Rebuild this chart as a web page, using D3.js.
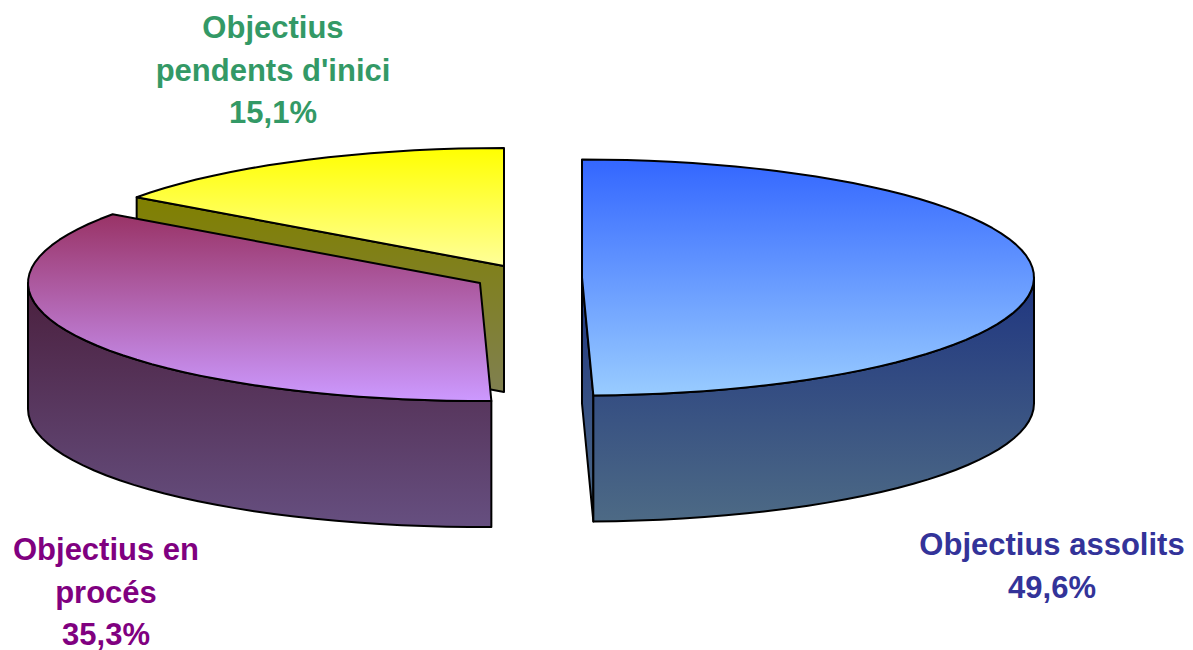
<!DOCTYPE html>
<html>
<head>
<meta charset="utf-8">
<script src="https://cdn.jsdelivr.net/npm/d3@7"></script>
<style>
  body { margin: 0; background: #fff; }
  svg { display: block; }
  text { font-family: "Liberation Sans", Arial, sans-serif; font-weight: bold; font-size: 31px; text-anchor: middle; }
</style>
</head>
<body>
<script>
const categories = ["Objectius assolits", "Objectius en procés", "Objectius pendents d'inici"];
const values = [49.6, 35.3, 15.1];
const valueLabels = ["49,6%", "35,3%", "15,1%"];
const labelLines = [["Objectius assolits"], ["Objectius en", "procés"], ["Objectius", "pendents d'inici"]];
const labelColors = ["#333399", "#800080", "#339966"];
const topColors = [["#3366ff", "#99ccff"], ["#993366", "#cc99ff"], ["#ffff00", "#ffff99"]];
const wallColors = [["#1f3580", "#4d6a85"], ["#4a1f3d", "#664f80"], ["#808000", "#808050"]];

const width = 1193, height = 650;
const rx = 452, ry = 118, depth = 126;
// every slice is pulled away from the middle on its own, so each has its own centre
const centres = [[582, 277.5], [480, 283], [504, 266]];
const labelPos = [[1052, 555], [106, 560], [273, 38]];
const lineGap = 42.5;

const svg = d3.select("body").append("svg").attr("width", width).attr("height", height);
const defs = svg.append("defs");

function addGradient(id, cols) {
  const g = defs.append("linearGradient").attr("id", id)
    .attr("x1", 0).attr("y1", 0).attr("x2", 0).attr("y2", 1);
  g.append("stop").attr("offset", "0%").attr("stop-color", cols[0]);
  g.append("stop").attr("offset", "100%").attr("stop-color", cols[1]);
}
topColors.forEach((c, i) => addGradient("top" + i, c));
wallColors.forEach((c, i) => addGradient("wall" + i, c));

const pie = d3.pie().sort(null).value(d => d);
const arcs = pie(values);

// flat pie angle -> point on the tilted ellipse
const pt = (i, a, dy = 0) => [
  centres[i][0] + rx * Math.sin(a),
  centres[i][1] - ry * Math.cos(a) + dy
];
const rim = (i, a0, a1, dy = 0) => {
  const n = Math.max(2, Math.ceil(Math.abs(a1 - a0) / 0.05));
  return d3.range(n + 1).map(k => pt(i, a0 + (a1 - a0) * k / n, dy));
};
const line = d3.line();
const HALF = Math.PI / 2;

function shape(points, fill) {
  svg.append("path")
    .attr("d", line(points) + "Z")
    .attr("fill", fill)
    .attr("stroke", "#000")
    .attr("stroke-width", 2)
    .attr("stroke-linejoin", "round");
}

// back to front: yellow, purple, blue
const yellow = arcs[2], purple = arcs[1], blue = arcs[0];
const cy = centres[2];

// yellow cut face
shape([pt(2, yellow.startAngle), cy, [cy[0], cy[1] + depth], pt(2, yellow.startAngle, depth)], "url(#wall2)");
shape([cy, ...rim(2, yellow.startAngle, yellow.endAngle)], "url(#top2)");

// purple outer wall
const pWall = rim(1, purple.startAngle, Math.PI * 1.5);
shape([...pWall, ...rim(1, purple.startAngle, Math.PI * 1.5, depth).reverse()], "url(#wall1)");
shape([centres[1], ...rim(1, purple.startAngle, purple.endAngle)], "url(#top1)");

// blue cut face and outer wall
const cb = centres[0];
shape([cb, pt(0, blue.endAngle), pt(0, blue.endAngle, depth), [cb[0], cb[1] + depth]], "url(#wall0)");
const bWall = rim(0, HALF, blue.endAngle);
shape([...bWall, ...rim(0, HALF, blue.endAngle, depth).reverse()], "url(#wall0)");
shape([cb, ...rim(0, blue.startAngle, blue.endAngle)], "url(#top0)");

// labels
categories.forEach((c, i) => {
  const t = svg.append("text").attr("fill", labelColors[i]);
  labelLines[i].concat(valueLabels[i]).forEach((s, k) => {
    t.append("tspan").attr("x", labelPos[i][0]).attr("y", labelPos[i][1] + k * lineGap).text(s);
  });
});
</script>
</body>
</html>
